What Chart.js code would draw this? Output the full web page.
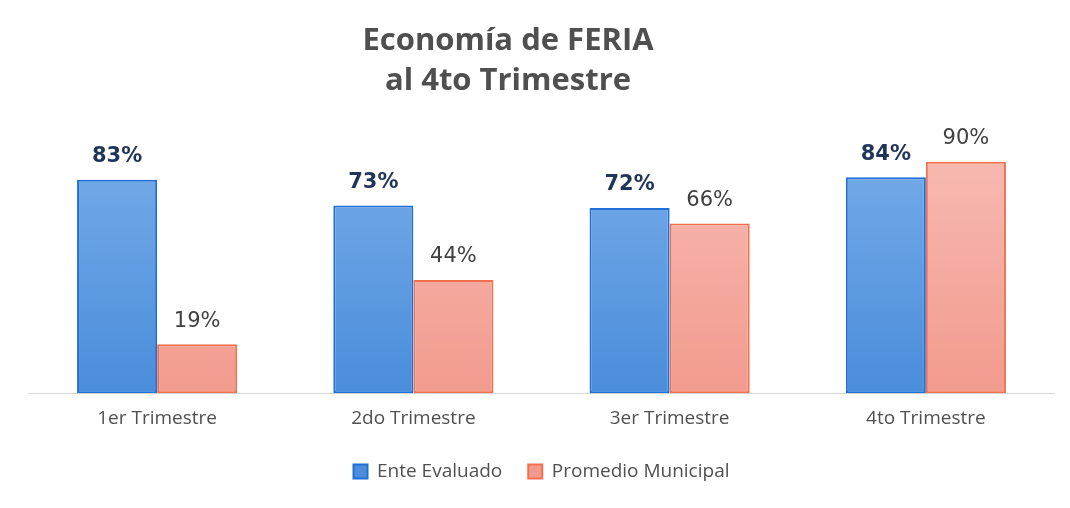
<!DOCTYPE html>
<html>
<head>
<meta charset="utf-8">
<script src="https://cdn.jsdelivr.net/npm/chart.js@4.4.0/dist/chart.umd.min.js"></script>
<style>
  html, body { margin: 0; padding: 0; background: #ffffff; }
  #wrap { width: 1070px; height: 508px; position: relative; }
</style>
</head>
<body>
<div id="wrap"><canvas id="chart"></canvas></div>
<script>
// data
var categories = ['1er Trimestre', '2do Trimestre', '3er Trimestre', '4to Trimestre']
var enteEvaluado = [83, 73, 72, 84]
var promedioMunicipal = [19, 44, 66, 90]
var titleLines = ['Economía de FERIA', 'al 4to Trimestre']

// vertical gradient for the bars
var makeGradient = (ctx, top, bottom) => {
  const area = ctx.chart.chartArea
  if (!area) return top
  const g = ctx.chart.ctx.createLinearGradient(0, area.top, 0, area.bottom)
  g.addColorStop(0, top)
  g.addColorStop(1, bottom)
  return g
}

// title drawn by hand, a little left of centre like the scan
const chartTitle = {
  id: 'chartTitle',
  afterDraw(chart) {
    const c = chart.ctx
    c.save()
    c.textAlign = 'center'
    c.textBaseline = 'middle'
    c.font = 'bold 31px "Open Sans"'
    c.fillStyle = '#4f4f4f'
    titleLines.forEach((line, i) => {
      c.fillText(line, 508, 41 + i * 40)
    })
    c.restore()
  }
}

// value labels above each bar
const barLabels = {
  id: 'barLabels',
  afterDatasetsDraw(chart) {
    const c = chart.ctx
    chart.data.datasets.forEach((ds, i) => {
      const meta = chart.getDatasetMeta(i)
      meta.data.forEach((bar, j) => {
        c.save()
        c.textAlign = 'center'
        c.textBaseline = 'middle'
        if (i === 0) {
          c.font = 'bold 21px "DejaVu Sans"'
          c.fillStyle = '#1f3458'
        } else {
          c.font = '21px "DejaVu Sans"'
          c.fillStyle = '#404040'
        }
        c.fillText(ds.data[j] + '%', bar.x, bar.y - 23)
        c.restore()
      })
    })
  }
}

const ctx = document.getElementById('chart').getContext('2d')
const myChart = new Chart(ctx, {
  type: 'bar',
  data: {
    labels: categories,
    datasets: [
      {
        label: 'Ente Evaluado',
        data: enteEvaluado,
        backgroundColor: (c) => makeGradient(c, '#78ade9', '#4a8ddb'),
        borderColor: '#1e6fd6',
        borderWidth: 2,
        borderSkipped: false
      },
      {
        label: 'Promedio Municipal',
        data: promedioMunicipal,
        backgroundColor: (c) => makeGradient(c, '#f8bcb4', '#f29a8e'),
        borderColor: '#f2704f',
        borderWidth: 2,
        borderSkipped: false
      }
    ]
  },
  options: {
    responsive: true,
    maintainAspectRatio: false,
    animation: false,
    layout: { padding: { left: 29, right: 16, top: 136, bottom: 17 } },
    datasets: {
      bar: { categoryPercentage: 0.625, barPercentage: 1 }
    },
    scales: {
      y: {
        display: false,
        min: 0,
        max: 100
      },
      x: {
        grid: { display: false },
        border: { display: true, color: '#d6d6d6', width: 1 },
        ticks: {
          color: '#505050',
          font: { family: '"Open Sans"', size: 19 },
          padding: 6
        }
      }
    },
    plugins: {
      title: { display: false },
      legend: {
        position: 'bottom',
        labels: {
          color: '#505050',
          font: { family: '"Open Sans"', size: 19 },
          boxWidth: 14,
          boxHeight: 14,
          padding: 26
        }
      },
      tooltip: { enabled: false }
    }
  },
  plugins: [chartTitle, barLabels]
})
</script>
</body>
</html>
